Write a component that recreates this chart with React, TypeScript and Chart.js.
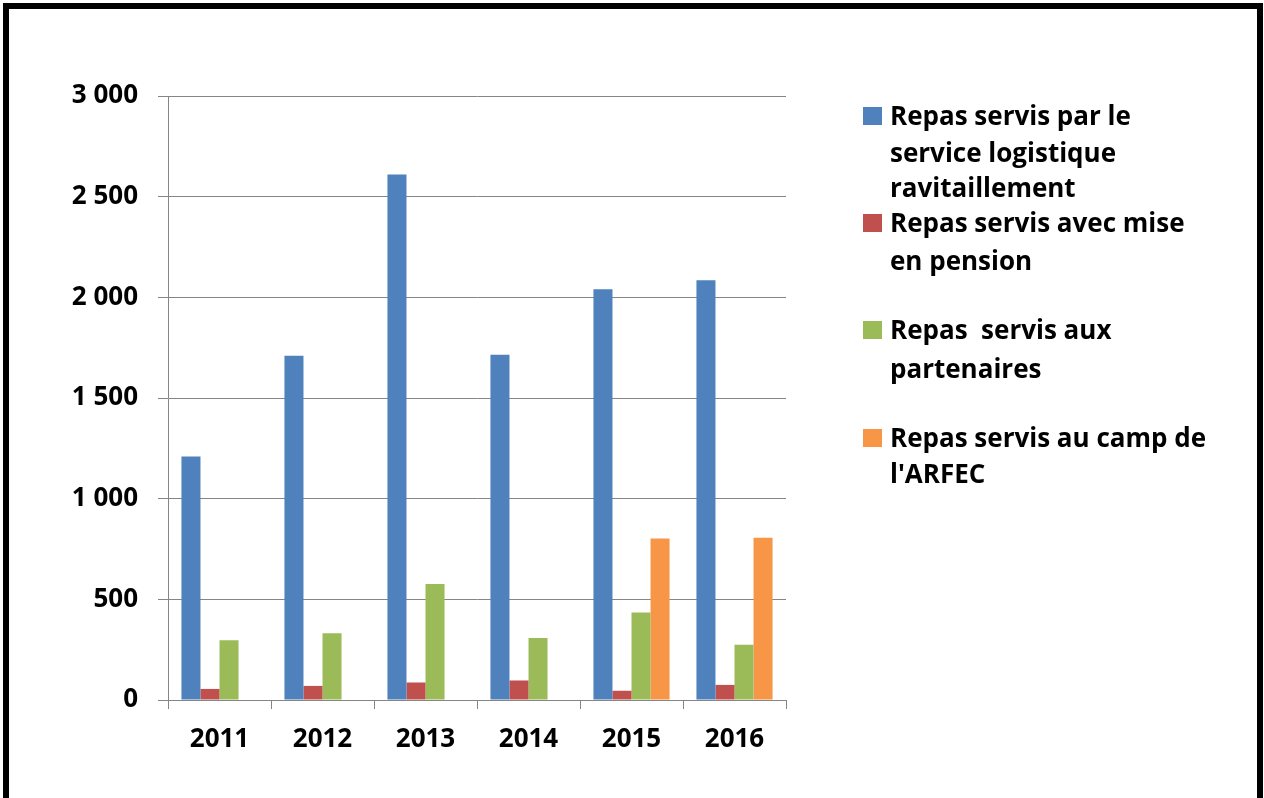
import React, { useEffect, useRef } from "react";
import { Chart, registerables } from "chart.js";

Chart.register(...registerables);

const years = ["2011", "2012", "2013", "2014", "2015", "2016"];
const logistique = [1210, 1710, 2610, 1715, 2040, 2085];
const pension = [55, 70, 87, 97, 46, 75];
const partenaires = [297, 332, 576, 308, 435, 275];
const arfec = [null, null, null, null, 802, 806];

const seriesNames = [
  ["Repas servis par le", "service logistique", "ravitaillement"],
  ["Repas servis avec mise", "en pension"],
  ["Repas  servis aux", "partenaires"],
  ["Repas servis au camp de", "l'ARFEC"],
];
const seriesColors = ["#4F81BD", "#C0504D", "#9BBB59", "#F79646"];
const yTicks = [0, 500, 1000, 1500, 2000, 2500, 3000];

// legend layout: baselines of each text line
const legendBaselines = [
  [125, 162, 197],
  [232, 270],
  [339, 378],
  [447, 483],
];

const fmt = (v: number) =>
  v >= 1000 ? `${Math.floor(v / 1000)} ${String(v % 1000).padStart(3, "0")}` : String(v);

export default function App() {
  const ref = useRef<HTMLCanvasElement | null>(null);

  useEffect(() => {
    if (!ref.current) return;
    const font = { family: "'Open Sans', sans-serif", size: 26, weight: "bold" as const };
    const values = [logistique, pension, partenaires, arfec];
    const chart = new Chart(ref.current, {
      type: "bar",
      data: {
        labels: years,
        datasets: values.map((d, i) => ({
          label: seriesNames[i].join(" "),
          data: d,
          backgroundColor: seriesColors[i],
          borderWidth: 0,
          categoryPercentage: 0.739,
          barPercentage: 1,
        })),
      },
      options: {
        animation: false,
        responsive: false,
        devicePixelRatio: 1,
        layout: { padding: { left: 0, right: 478, top: 96, bottom: 0 } },
        plugins: { legend: { display: false }, tooltip: { enabled: false } },
        scales: {
          x: {
            afterFit: (s: any) => {
              s.height = 98;
            },
            grid: {
              display: true,
              drawOnChartArea: false,
              drawTicks: true,
              tickLength: 9,
              color: "#858585",
              offset: true,
            },
            border: { display: true, color: "#858585", width: 1 },
            ticks: { color: "#000", font, padding: 15 },
          },
          y: {
            min: 0,
            max: 3000,
            afterFit: (s: any) => {
              s.width = 168;
            },
            afterBuildTicks: (s: any) => {
              s.ticks = yTicks.map((v) => ({ value: v }));
            },
            grid: { color: "#858585", lineWidth: 1, tickLength: 10, drawTicks: true },
            border: { display: true, color: "#858585", width: 1 },
            ticks: {
              color: "#000",
              font,
              padding: 20,
              callback: (v: any) => fmt(Number(v)),
            },
          },
        },
      },
    });
    return () => chart.destroy();
  }, []);

  return (
    <div
      style={{
        position: "fixed",
        left: 0,
        top: 0,
        width: 1264,
        height: 798,
        overflow: "hidden",
        background: "#fff",
      }}
    >
      <div
        style={{
          position: "absolute",
          left: 3,
          top: 3,
          width: 1248,
          height: 840,
          border: "6px solid #000",
        }}
      />
      <canvas
        ref={ref}
        width={1264}
        height={798}
        style={{ position: "absolute", left: 0, top: 0, width: 1264, height: 798 }}
      />
      {seriesNames.map((lines, i) => (
        <React.Fragment key={i}>
          <div
            style={{
              position: "absolute",
              left: 863,
              top: legendBaselines[i][0] - 18,
              width: 19,
              height: 18,
              background: seriesColors[i],
            }}
          />
          {lines.map((t, j) => (
            <div
              key={j}
              style={{
                position: "absolute",
                left: 890,
                top: legendBaselines[i][j] - 23,
                fontFamily: "'Open Sans', sans-serif",
                fontWeight: "bold",
                fontSize: 26,
                lineHeight: "26px",
                whiteSpace: "pre",
                color: "#000",
              }}
            >
              {t}
            </div>
          ))}
        </React.Fragment>
      ))}
    </div>
  );
}
